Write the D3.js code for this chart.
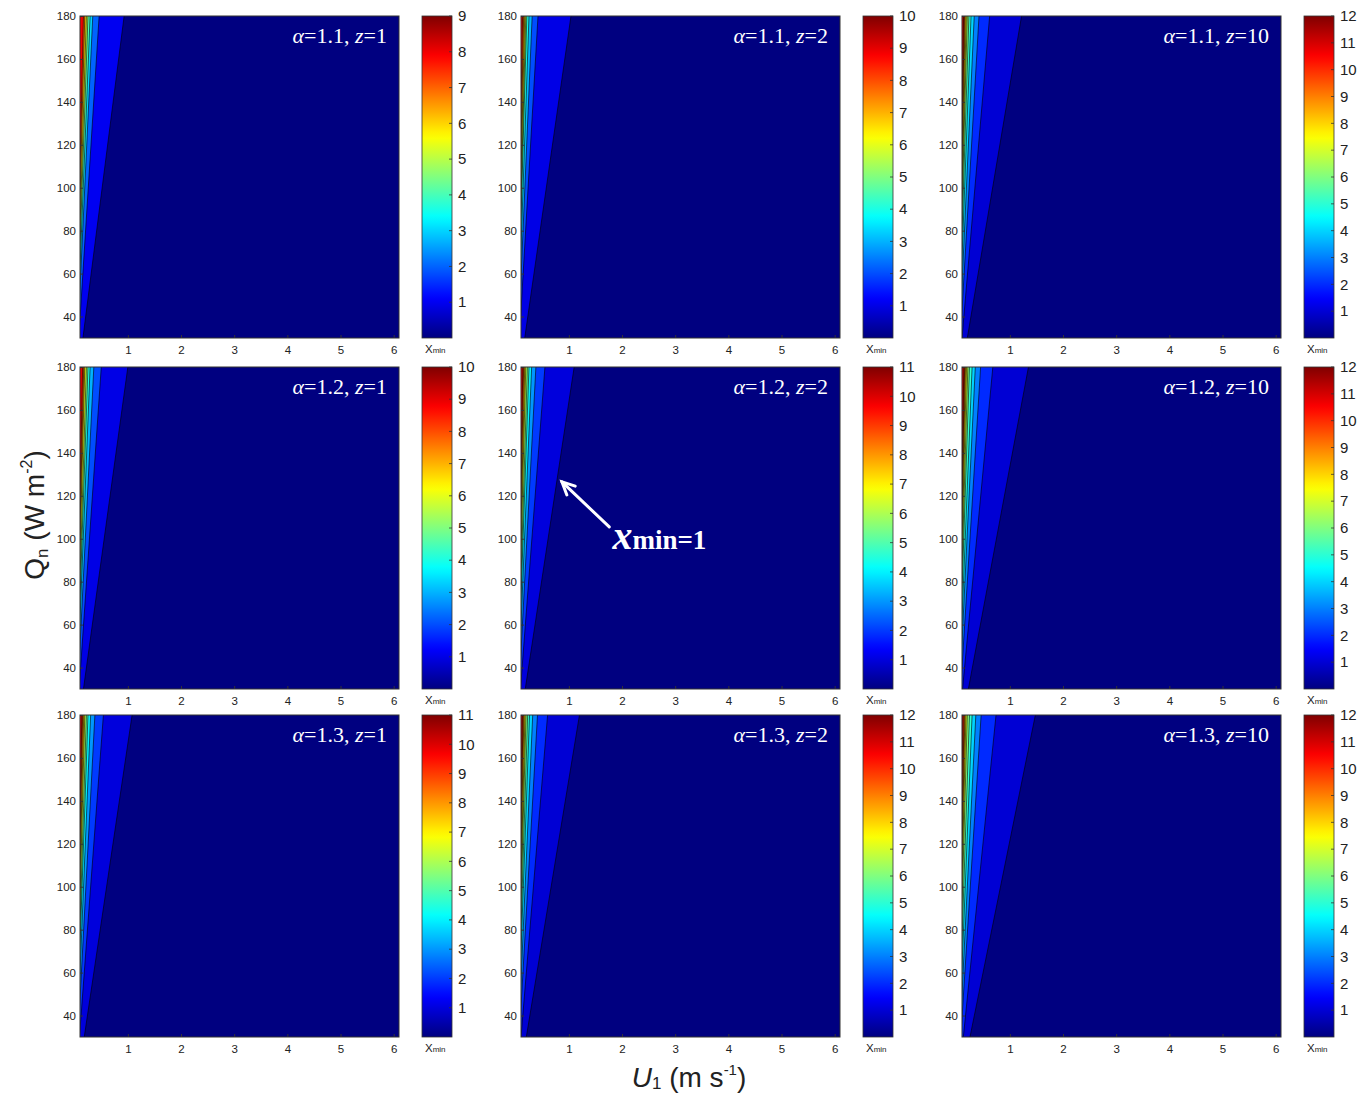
<!DOCTYPE html>
<html>
<head>
<meta charset="utf-8">
<script src="https://cdn.jsdelivr.net/npm/d3@7"></script>
<style>
  body { margin: 0; background: #fff; }
</style>
</head>
<body>
<script>

// panel labels, row = alpha, column = z
var alphas = ["1.1", "1.2", "1.3"];
var zs = ["1", "2", "10"];
// colorbar upper limit for each panel (row by row)
var cbMax = [9, 10, 12, 10, 11, 12, 11, 12, 12];

var xTicks = [1, 2, 3, 4, 5, 6];
var yTicks = [40, 60, 80, 100, 120, 140, 160, 180];

// U1 (m/s) where xmin crosses 1, 2, 3 ... at the top of the panel (Qn = 180)
var topU = [
  [0.93, 0.46, 0.34, 0.29, 0.25, 0.22, 0.19, 0.165],
  [1.04, 0.42, 0.31, 0.25, 0.21, 0.19, 0.17, 0.15, 0.13],
  [1.22, 0.62, 0.42, 0.33, 0.27, 0.23, 0.20, 0.18, 0.16, 0.145, 0.13],
  [1.00, 0.50, 0.36, 0.29, 0.25, 0.22, 0.19, 0.17, 0.15],
  [1.10, 0.55, 0.38, 0.30, 0.25, 0.22, 0.19, 0.17, 0.15, 0.135],
  [1.35, 0.68, 0.45, 0.35, 0.29, 0.24, 0.21, 0.185, 0.165, 0.15, 0.135],
  [1.08, 0.54, 0.38, 0.30, 0.25, 0.22, 0.19, 0.17, 0.15, 0.135],
  [1.20, 0.60, 0.41, 0.32, 0.26, 0.225, 0.195, 0.175, 0.155, 0.14, 0.125],
  [1.48, 0.74, 0.46, 0.36, 0.29, 0.24, 0.20, 0.175, 0.155, 0.14, 0.12]
];
// same crossings at the bottom of the panel (Qn = 30)
var botU = [
  [0.155, 0.077, 0.057, 0.048, 0.042, 0.037, 0.032, 0.027],
  [0.17, 0.07, 0.052, 0.042, 0.035, 0.032, 0.028, 0.025, 0.022],
  [0.20, 0.10, 0.07, 0.055, 0.045, 0.038, 0.033, 0.03, 0.027, 0.024, 0.022],
  [0.165, 0.083, 0.06, 0.048, 0.042, 0.037, 0.032, 0.028, 0.025],
  [0.18, 0.09, 0.063, 0.05, 0.042, 0.037, 0.032, 0.028, 0.025, 0.022],
  [0.22, 0.11, 0.075, 0.058, 0.048, 0.04, 0.035, 0.031, 0.027, 0.025, 0.022],
  [0.18, 0.09, 0.063, 0.05, 0.042, 0.037, 0.032, 0.028, 0.025, 0.022],
  [0.20, 0.10, 0.068, 0.053, 0.043, 0.037, 0.032, 0.029, 0.026, 0.023, 0.021],
  [0.25, 0.125, 0.077, 0.06, 0.048, 0.04, 0.033, 0.029, 0.026, 0.023, 0.02]
];

// arrow + label in the middle panel: [U, Qn]
var arrowTip = [0.87, 126.5];
var arrowTail = [1.76, 105.5];
var notePos = [1.82, 95];

var plotX = [80, 521, 962];
var plotY = [16, 367, 715];
var pw = 319, ph = 322;

var svg = d3.select("body").append("svg")
  .attr("width", 1365)
  .attr("height", 1094)
  .style("font-family", "'Liberation Sans', Arial, sans-serif");

// matlab jet colormap
function jet(t) {
  function c(v) { return Math.max(0, Math.min(1, v)); }
  return d3.rgb(255 * c(1.5 - Math.abs(4 * t - 3)),
                255 * c(1.5 - Math.abs(4 * t - 2)),
                255 * c(1.5 - Math.abs(4 * t - 1))).toString();
}

var defs = svg.append("defs");
var grad = defs.append("linearGradient").attr("id", "jetGrad")
  .attr("x1", 0).attr("y1", 1).attr("x2", 0).attr("y2", 0);
d3.range(0, 1.0001, 0.02).forEach(function(t) {
  grad.append("stop").attr("offset", t).attr("stop-color", jet(t));
});

var line = d3.line();

for (var r = 0; r < 3; r++) {
  for (var c = 0; c < 3; c++) {
    var i = r * 3 + c;
    var x0 = plotX[c], y0 = plotY[r], max = cbMax[i];
    var x = d3.scaleLinear().domain([0.1, 6.1]).range([x0, x0 + pw]);
    var y = d3.scaleLinear().domain([30, 180]).range([y0 + ph, y0]);

    defs.append("clipPath").attr("id", "clip" + i)
      .append("rect").attr("x", x0).attr("y", y0).attr("width", pw).attr("height", ph);

    var g = svg.append("g").attr("clip-path", "url(#clip" + i + ")");
    g.append("rect").attr("x", x0).attr("y", y0).attr("width", pw).attr("height", ph)
      .attr("fill", jet(0));

    var levels = d3.range(topU[i].length);
    var tu = topU[i], bu = botU[i];

    // each band = everything left of the level line, painted from xmin=1 inward
    g.selectAll("path.band").data(levels).join("path")
      .attr("class", "band")
      .attr("d", function(k) {
        return line([[x(0), y(180)], [x(tu[k]), y(180)], [x(bu[k]), y(30)], [x(0), y(30)]]) + "Z";
      })
      .attr("fill", function(k) { return jet((k + 1) / max); });

    g.selectAll("path.cline").data(levels).join("path")
      .attr("class", "cline")
      .attr("d", function(k) { return line([[x(tu[k]), y(180)], [x(bu[k]), y(30)]]); })
      .attr("stroke", "#000")
      .attr("stroke-width", 0.6)
      .attr("fill", "none");

    // axes
    var ax = svg.append("g").attr("transform", "translate(0," + (y0 + ph) + ")")
      .call(d3.axisBottom(x).tickValues(xTicks).tickFormat(d3.format("d"))
        .tickSizeInner(-3).tickSizeOuter(0).tickPadding(8));
    var ay = svg.append("g").attr("transform", "translate(" + x0 + ",0)")
      .call(d3.axisLeft(y).tickValues(yTicks).tickSizeInner(-3).tickSizeOuter(0).tickPadding(4));
    [ax, ay].forEach(function(a) {
      a.select(".domain").remove();
      a.selectAll("text").attr("font-size", 11.5).attr("fill", "#222")
        .style("font-family", "'Liberation Sans', Arial, sans-serif");
      a.selectAll("line").attr("stroke", "#333");
    });

    svg.append("rect").attr("x", x0).attr("y", y0).attr("width", pw).attr("height", ph)
      .attr("fill", "none").attr("stroke", "#333").attr("stroke-width", 1);

    // panel title
    var t = svg.append("text")
      .attr("x", x0 + pw - 12).attr("y", y0 + 27)
      .attr("text-anchor", "end")
      .attr("fill", "#fff")
      .attr("font-size", 22)
      .style("font-family", "'Liberation Serif', 'Times New Roman', serif");
    t.append("tspan").attr("font-style", "italic").text("\u03b1");
    t.append("tspan").text("=" + alphas[r] + ", ");
    t.append("tspan").attr("font-style", "italic").text("z");
    t.append("tspan").text("=" + zs[c]);

    // colorbar
    var cx = x0 + pw + 23, cw = 30;
    var cy = d3.scaleLinear().domain([0, max]).range([y0 + ph, y0]);
    svg.append("rect").attr("x", cx).attr("y", y0).attr("width", cw).attr("height", ph)
      .attr("fill", "url(#jetGrad)").attr("stroke", "#333").attr("stroke-width", 0.8);
    var cbT = d3.range(1, max + 1);
    svg.append("g").selectAll("line").data(cbT).join("line")
      .attr("x1", cx + cw - 3).attr("x2", cx + cw)
      .attr("y1", function(d) { return cy(d); }).attr("y2", function(d) { return cy(d); })
      .attr("stroke", "#333").attr("stroke-width", 0.8);
    svg.append("g").selectAll("text").data(cbT).join("text")
      .attr("x", cx + cw + 6)
      .attr("y", function(d) { return cy(d); })
      .attr("dy", "0.35em")
      .attr("font-size", 15)
      .attr("fill", "#222")
      .text(function(d) { return d; });
    var cl = svg.append("text").attr("x", cx + 3).attr("y", y0 + ph + 15).attr("fill", "#222");
    cl.append("tspan").attr("font-size", 11.5).text("X");
    cl.append("tspan").attr("font-size", 8).text("min");

    // annotation in the middle panel
    if (r === 1 && c === 1) {
      var tip = [x(arrowTip[0]), y(arrowTip[1])];
      var tail = [x(arrowTail[0]), y(arrowTail[1])];
      var ang = Math.atan2(tail[1] - tip[1], tail[0] - tip[0]);
      var hl = 14, ha = 0.45;
      var an = svg.append("g").attr("stroke", "#fff").attr("stroke-width", 3)
        .attr("fill", "none").attr("stroke-linecap", "round");
      an.append("path").attr("d", line([tail, tip]));
      an.append("path").attr("d", line([
        [tip[0] + hl * Math.cos(ang - ha), tip[1] + hl * Math.sin(ang - ha)],
        tip,
        [tip[0] + hl * Math.cos(ang + ha), tip[1] + hl * Math.sin(ang + ha)]
      ]));
      var nt = svg.append("text")
        .attr("x", x(notePos[0])).attr("y", y(notePos[1]))
        .attr("fill", "#fff").attr("font-weight", "bold")
        .style("font-family", "'Liberation Serif', 'Times New Roman', serif");
      nt.append("tspan").attr("font-size", 40).attr("font-style", "italic").text("x");
      nt.append("tspan").attr("font-size", 27).text("min=1");
    }
  }
}

// axis titles
var yt = svg.append("text")
  .attr("transform", "translate(44,515) rotate(-90)")
  .attr("text-anchor", "middle")
  .attr("fill", "#222")
  .attr("font-size", 28);
yt.append("tspan").text("Q");
yt.append("tspan").attr("font-size", 17).attr("dy", 4).text("n");
yt.append("tspan").attr("dy", -4).text(" (W m");
yt.append("tspan").attr("font-size", 16).attr("dy", -12).text("-2");
yt.append("tspan").attr("dy", 12).text(")");

var xt = svg.append("text")
  .attr("x", 689).attr("y", 1087)
  .attr("text-anchor", "middle")
  .attr("fill", "#222")
  .attr("font-size", 28);
xt.append("tspan").attr("font-style", "italic").text("U");
xt.append("tspan").attr("font-size", 17).attr("dy", 2).text("1");
xt.append("tspan").attr("dy", -2).text(" (m s");
xt.append("tspan").attr("font-size", 15).attr("dy", -12).text("-1");
xt.append("tspan").attr("dy", 12).text(")");

</script>
</body>
</html>
